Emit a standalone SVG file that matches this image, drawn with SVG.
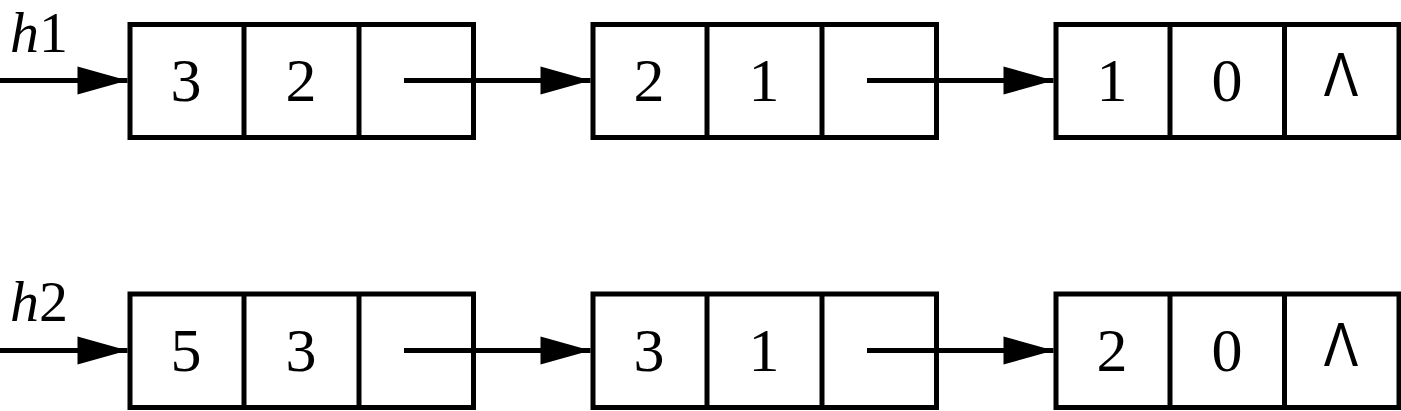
<svg xmlns="http://www.w3.org/2000/svg" width="1401" height="411" viewBox="0 0 1401 411">
<style>
.box{fill:#fff;stroke:#000;stroke-width:5}
.div{stroke:#000;stroke-width:5}
.t{font-family:"Liberation Serif","Times New Roman",serif;font-size:62px;text-anchor:middle;fill:#000}
.nil{font-family:"Liberation Sans",Arial,sans-serif;font-size:63px;text-anchor:middle;fill:#000}
.lbl{font-family:"Liberation Serif","Times New Roman",serif;font-size:58px;fill:#000}
.c{stroke:#000;stroke-width:5;fill:none;marker-end:url(#ah)}
</style>
<defs>
<marker id="ah" markerUnits="userSpaceOnUse" markerWidth="50" markerHeight="28" refX="50" refY="14" orient="auto" overflow="visible">
<path d="M0,0 L50,14 L0,28 Z" fill="#000"/>
</marker>
</defs>
<rect width="1401" height="411" fill="#fff"/>
<g id="labels">
<text class="lbl" x="10" y="52"><tspan font-style="italic">h</tspan>1</text>
<text class="lbl" x="10" y="321"><tspan font-style="italic">h</tspan>2</text>
</g>
<g id="r1n1">
<rect class="box" x="130" y="24.5" width="343.5" height="113"/>
<line class="div" x1="244" y1="24.5" x2="244" y2="137.5"/>
<line class="div" x1="359" y1="24.5" x2="359" y2="137.5"/>
<text class="t" x="186" y="100.5">3</text>
<text class="t" x="301" y="100.5">2</text>
</g>
<g id="r1n2">
<rect class="box" x="593" y="24.5" width="343.5" height="113"/>
<line class="div" x1="707" y1="24.5" x2="707" y2="137.5"/>
<line class="div" x1="822" y1="24.5" x2="822" y2="137.5"/>
<text class="t" x="649" y="100.5">2</text>
<text class="t" x="764" y="100.5">1</text>
</g>
<g id="r1n3">
<rect class="box" x="1056" y="24.5" width="343" height="113"/>
<line class="div" x1="1170" y1="24.5" x2="1170" y2="137.5"/>
<line class="div" x1="1284.5" y1="24.5" x2="1284.5" y2="137.5"/>
<text class="t" x="1112" y="100.5">1</text>
<text class="t" x="1227" y="100.5">0</text>
<text class="nil" transform="translate(1341 96) scale(0.82 1)">Λ</text>
</g>
<g id="r2n1">
<rect class="box" x="130" y="294" width="343.5" height="113.5"/>
<line class="div" x1="244" y1="294" x2="244" y2="407.5"/>
<line class="div" x1="359" y1="294" x2="359" y2="407.5"/>
<text class="t" x="186" y="370.5">5</text>
<text class="t" x="301" y="370.5">3</text>
</g>
<g id="r2n2">
<rect class="box" x="593" y="294" width="343.5" height="113.5"/>
<line class="div" x1="707" y1="294" x2="707" y2="407.5"/>
<line class="div" x1="822" y1="294" x2="822" y2="407.5"/>
<text class="t" x="649" y="370.5">3</text>
<text class="t" x="764" y="370.5">1</text>
</g>
<g id="r2n3">
<rect class="box" x="1056" y="294" width="343" height="113.5"/>
<line class="div" x1="1170" y1="294" x2="1170" y2="407.5"/>
<line class="div" x1="1284.5" y1="294" x2="1284.5" y2="407.5"/>
<text class="t" x="1112" y="370.5">2</text>
<text class="t" x="1227" y="370.5">0</text>
<text class="nil" transform="translate(1341 366) scale(0.82 1)">Λ</text>
</g>
<g id="connectors">
<line class="c" x1="0" y1="80.5" x2="127.5" y2="80.5"/>
<line class="c" x1="404" y1="80.5" x2="590.5" y2="80.5"/>
<line class="c" x1="867" y1="80.5" x2="1053.5" y2="80.5"/>
<line class="c" x1="0" y1="350.5" x2="127.5" y2="350.5"/>
<line class="c" x1="404" y1="350.5" x2="590.5" y2="350.5"/>
<line class="c" x1="867" y1="350.5" x2="1053.5" y2="350.5"/>
</g>
</svg>
